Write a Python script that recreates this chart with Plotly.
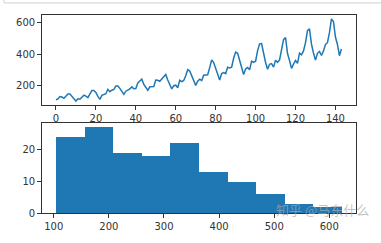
import numpy as np
import plotly.graph_objects as go

passengers = [
    112, 118, 132, 129, 121, 135, 148, 148, 136, 119, 104, 118,
    115, 126, 141, 135, 125, 149, 170, 170, 158, 133, 114, 140,
    145, 150, 178, 163, 172, 178, 199, 199, 184, 162, 146, 166,
    171, 180, 193, 181, 183, 218, 230, 242, 209, 191, 172, 194,
    196, 196, 236, 235, 229, 243, 264, 272, 237, 211, 180, 201,
    204, 188, 235, 227, 234, 264, 302, 293, 259, 229, 203, 229,
    242, 233, 267, 269, 270, 315, 364, 347, 312, 274, 237, 278,
    284, 277, 317, 313, 318, 374, 413, 405, 355, 306, 271, 306,
    315, 301, 356, 348, 355, 422, 465, 467, 404, 347, 305, 336,
    340, 318, 362, 348, 363, 435, 491, 505, 404, 359, 310, 337,
    360, 342, 406, 396, 420, 472, 548, 559, 463, 407, 362, 405,
    417, 391, 419, 461, 472, 535, 622, 606, 508, 461, 390, 432,
]
index = list(range(len(passengers)))
top_xticks = [0, 20, 40, 60, 80, 100, 120, 140]
top_yticks = [200, 400, 600]
bot_xticks = [100, 200, 300, 400, 500, 600]
bot_yticks = [0, 10, 20]

counts, edges = np.histogram(passengers, bins=10)
centers = (edges[:-1] + edges[1:]) / 2
widths = np.diff(edges)

W, H = 381, 243
blue = "#1f77b4"
fig = go.Figure()
fig.add_trace(go.Scatter(x=index, y=passengers, mode="lines",
                         line=dict(color=blue, width=1.5), xaxis="x", yaxis="y"))
fig.add_trace(go.Bar(x=centers, y=counts, width=widths, marker=dict(color=blue, line=dict(width=0)),
                     xaxis="x2", yaxis="y2"))

pmin, pmax = min(passengers), max(passengers)
pad = 0.05 * (pmax - pmin)
n = len(passengers)
xl = [-(n - 1) * 0.05, (n - 1) * 1.05]
cmax = max(counts)

axis_common = dict(showline=True, mirror=True, linecolor="#333", linewidth=1, showgrid=False,
                   zeroline=False, ticks="outside", ticklen=3.5, tickwidth=0.8, tickcolor="#333",
                   tickfont=dict(family="DejaVu Sans", size=10, color="#333"))
dom_x = [41.7 / W, 355.7 / W]
fig.update_layout(
    width=W, height=H, margin=dict(l=0, r=0, t=0, b=0),
    paper_bgcolor="white", plot_bgcolor="white", showlegend=False, bargap=0,
    xaxis=dict(domain=dom_x, range=xl, tickvals=top_xticks, anchor="y", **axis_common),
    yaxis=dict(domain=[1 - 107.8 / H, 1 - 15.2 / H], range=[pmin - pad, pmax + pad],
               tickvals=top_yticks, anchor="x", **axis_common),
    xaxis2=dict(domain=dom_x, range=[pmin - pad, pmax + pad], tickvals=bot_xticks, anchor="y2", **axis_common),
    yaxis2=dict(domain=[1 - 218.7 / H, 1 - 126 / H], range=[0, cmax * 1.05],
                tickvals=bot_yticks, anchor="x2", **axis_common),
    shapes=[
        dict(type="line", xref="paper", yref="paper", x0=4 / W, x1=1, y0=1 - 3 / H, y1=1 - 3 / H,
             line=dict(color="#d0d0d0", width=1)),
        dict(type="line", xref="paper", yref="paper", x0=4 / W, x1=4 / W, y0=1 - 3 / H, y1=1,
             line=dict(color="#d0d0d0", width=1)),
    ],
    annotations=[dict(text="知乎 @马东什么", xref="paper", yref="paper", x=371 / W, y=1 - 215 / H,
                      xanchor="right", yanchor="middle", showarrow=False,
                      font=dict(family="Noto Sans CJK SC", size=13, color="rgba(170,170,170,0.7)"))],
)
fig.write_html("out.html")
